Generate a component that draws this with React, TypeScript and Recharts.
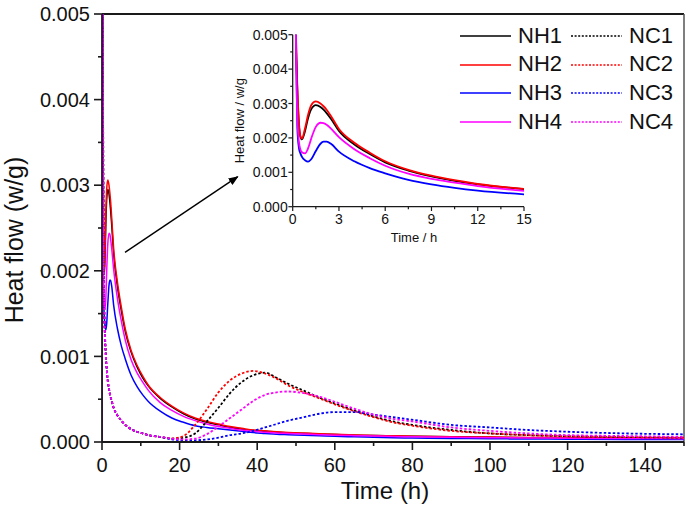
import React from 'react';
import { LineChart, Line, XAxis, YAxis, ReferenceLine, Legend } from 'recharts';

const time = [0, 0.05, 0.1, 0.2, 0.3, 0.4, 0.5, 0.6, 0.8, 1.0, 1.2, 1.5, 1.8, 2.0, 2.2, 2.5, 3, 4, 5, 6, 7.5, 9, 10.5, 12, 15, 18, 21, 24, 27, 30, 33, 36, 39, 42, 45, 48, 52, 56, 60, 65, 70, 75, 80, 90, 100, 110, 120, 135, 150];

const nh1 = [0, 0.02, 0.012, 0.0055, 0.0034, 0.0024, 0.00203, 0.00196, 0.0022, 0.00258,
  0.00283, 0.00295, 0.0029, 0.00282, 0.00272, 0.00254, 0.0022, 0.00181, 0.00153, 0.00129,
  0.00105, 0.00088, 0.00075, 0.00065, 0.00051, 0.00041, 0.00033, 0.00027, 0.00023, 0.0002,
  0.00017, 0.00015, 0.000135, 0.000125, 0.000115, 0.000108, 0.0001, 0.000093, 0.000087, 0.00008,
  0.000075, 0.00007, 0.000066, 0.00006, 0.000055, 0.000051, 0.000048, 0.000045, 0.000042];

const nh2 = [0, 0.02, 0.012, 0.0056, 0.0035, 0.0025, 0.00205, 0.00198, 0.00228, 0.00268,
  0.00295, 0.00306, 0.003, 0.00292, 0.00282, 0.00262, 0.00226, 0.00186, 0.00157, 0.00132,
  0.00107, 0.0009, 0.00077, 0.00066, 0.00052, 0.00042, 0.00034, 0.00028, 0.00024, 0.00021,
  0.00018, 0.00016, 0.00014, 0.00013, 0.00012, 0.000112, 0.000104, 0.000096, 0.00009, 0.000083,
  0.000077, 0.000072, 0.000068, 0.000062, 0.000057, 0.000053, 0.00005, 0.000047, 0.000044];

const nh3 = [0, 0.02, 0.01, 0.0051, 0.0023, 0.00172, 0.00155, 0.00145, 0.00135, 0.00131,
  0.00138, 0.00162, 0.00183, 0.00189, 0.00189, 0.00182, 0.0016, 0.00132, 0.00112, 0.00097,
  0.00078, 0.00065, 0.00055, 0.00047, 0.00036, 0.00028, 0.00023, 0.00019, 0.00017, 0.000155,
  0.00014, 0.000125, 0.00011, 0.0001, 0.00009, 0.000085, 0.000078, 0.000072, 0.000066, 0.00006,
  0.000055, 0.00005, 0.000047, 0.000042, 0.000038, 0.000035, 0.000033, 0.00003, 0.000028];

const nh4 = [0, 0.02, 0.011, 0.0052, 0.0026, 0.0019, 0.00166, 0.00158, 0.00155, 0.0017,
  0.00198, 0.00232, 0.00244, 0.00243, 0.00238, 0.00226, 0.00202, 0.00167, 0.00141, 0.00119,
  0.00096, 0.00081, 0.0007, 0.0006, 0.00046, 0.00037, 0.0003, 0.00025, 0.00021, 0.00018,
  0.00016, 0.00014, 0.000125, 0.000115, 0.000105, 0.0001, 0.000093, 0.000086, 0.00008, 0.000074,
  0.00007, 0.000065, 0.000061, 0.000056, 0.000051, 0.000047, 0.000044, 0.000041, 0.000038];

const nc1 = [0, 0.02, 0.012, 0.006, 0.0035, 0.0024, 0.0018, 0.0015, 0.0012, 0.001,
  0.00086, 0.00071, 0.00062, 0.00057, 0.00053, 0.00048, 0.0004, 0.00031, 0.00025, 0.0002,
  0.00015, 0.00012, 0.0001, 0.00008, 0.00006, 0.00004, 0.00005, 0.0001, 0.00024, 0.0004,
  0.00057, 0.0007, 0.00078, 0.00081, 0.00075, 0.00068, 0.0006, 0.00052, 0.00045, 0.00037,
  0.0003, 0.00024, 0.0002, 0.00014, 0.0001, 0.00008, 0.000068, 0.000058, 0.00005];

const nc2 = [0, 0.02, 0.012, 0.006, 0.0035, 0.0024, 0.0018, 0.0015, 0.0012, 0.001,
  0.00086, 0.00071, 0.00062, 0.00057, 0.00053, 0.00048, 0.0004, 0.00031, 0.00025, 0.0002,
  0.00015, 0.00012, 0.0001, 0.00008, 0.00006, 0.00004, 0.00007, 0.0002, 0.00038, 0.00058,
  0.00072, 0.0008, 0.00083, 0.0008, 0.00074, 0.00066, 0.00058, 0.00051, 0.00044, 0.00036,
  0.00029, 0.00023, 0.00019, 0.00013, 0.0001, 0.00008, 0.000068, 0.000058, 0.00005];

const nc3 = [0, 0.02, 0.012, 0.006, 0.0035, 0.0024, 0.0018, 0.0015, 0.0012, 0.001,
  0.00086, 0.00071, 0.00062, 0.00057, 0.00053, 0.00048, 0.0004, 0.00031, 0.00025, 0.0002,
  0.00015, 0.00012, 0.0001, 0.00008, 0.00006, 0.00003, 0.00002, 0.00002, 0.00003, 0.00005,
  0.00008, 0.0001, 0.00013, 0.00017, 0.00021, 0.00025, 0.00029, 0.00033, 0.00035, 0.00035,
  0.00032, 0.00029, 0.00026, 0.0002, 0.00017, 0.00014, 0.00012, 0.0001, 0.00009];

const nc4 = [0, 0.02, 0.012, 0.006, 0.0035, 0.0024, 0.0018, 0.0015, 0.0012, 0.001,
  0.00086, 0.00071, 0.00062, 0.00057, 0.00053, 0.00048, 0.0004, 0.00031, 0.00025, 0.0002,
  0.00015, 0.00012, 0.0001, 0.00008, 0.00006, 0.00004, 0.00003, 0.00004, 0.00009, 0.00018,
  0.00028, 0.00038, 0.00048, 0.00055, 0.00058, 0.00059, 0.00057, 0.00053, 0.00047, 0.00039,
  0.00032, 0.00027, 0.00024, 0.00017, 0.00013, 0.0001, 0.00008, 0.00007, 0.00006];

const mainXTicks = [0, 10, 20, 30, 40, 50, 60, 70, 80, 90, 100, 110, 120, 130, 140, 150];
const mainYTicks = [0, 0.0005, 0.001, 0.0015, 0.002, 0.0025, 0.003, 0.0035, 0.004, 0.0045, 0.005];
const insetXTicks = [0, 1.5, 3, 4.5, 6, 7.5, 9, 10.5, 12, 13.5, 15];
const insetYTicks = [0, 0.0005, 0.001, 0.0015, 0.002, 0.0025, 0.003, 0.0035, 0.004, 0.0045, 0.005];

const nhNames = ['NH1', 'NH2', 'NH3', 'NH4'];
const ncNames = ['NC1', 'NC2', 'NC3', 'NC4'];
const colors = ['#000000', '#ff0000', '#0000ff', '#ff00ff'];
const nhValues = [nh1, nh2, nh3, nh4];
const ncValues = [nc1, nc2, nc3, nc4];

const rows = time.map((t, i) => {
  const r: any = { t };
  nhNames.forEach((n, k) => { r[n] = nhValues[k][i]; });
  ncNames.forEach((n, k) => { r[n] = ncValues[k][i]; });
  return r;
});
const insetRows = rows.filter((r) => r.t >= 0.1 && r.t <= 15);

const FONT = '"Liberation Sans", Arial, Helvetica, sans-serif';
const AX = '#1a1a1a';

const MainYTick = (props: any) => {
  const { x, y, payload } = props;
  const v = payload.value;
  const major = Math.round(v * 10000) % 10 === 0;
  return (
    <g>
      <line x1={x - (major ? 8 : 4)} x2={x} y1={y} y2={y} stroke={AX} strokeWidth={1.6} />
      {major && (
        <text x={x - 12} y={y + 7.2} textAnchor="end" fontSize={20} fontFamily={FONT} fill="#111">
          {v.toFixed(3)}
        </text>
      )}
    </g>
  );
};

const MainXTick = (props: any) => {
  const { x, y, payload } = props;
  const v = payload.value;
  const major = v % 20 === 0;
  return (
    <g>
      <line x1={x} x2={x} y1={y} y2={y + (major ? 8 : 4)} stroke={AX} strokeWidth={1.6} />
      {major && (
        <text x={x} y={y + 29.7} textAnchor="middle" fontSize={20} fontFamily={FONT} fill="#111">
          {v}
        </text>
      )}
    </g>
  );
};

const InsetYTick = (props: any) => {
  const { x, y, payload } = props;
  const v = payload.value;
  const major = Math.round(v * 10000) % 10 === 0;
  return (
    <g>
      <line x1={x - (major ? 4.3 : 2.5)} x2={x} y1={y} y2={y} stroke={AX} strokeWidth={1.2} />
      {major && (
        <text x={x - 5} y={y + 5} textAnchor="end" fontSize={14} fontFamily={FONT} fill="#111">
          {v.toFixed(3)}
        </text>
      )}
    </g>
  );
};

const InsetXTick = (props: any) => {
  const { x, y, payload } = props;
  const v = payload.value;
  const major = v % 3 === 0;
  return (
    <g>
      <line x1={x} x2={x} y1={y} y2={y + (major ? 4.3 : 2.5)} stroke={AX} strokeWidth={1.2} />
      {major && (
        <text x={x} y={y + 17.3} textAnchor="middle" fontSize={14} fontFamily={FONT} fill="#111">
          {v}
        </text>
      )}
    </g>
  );
};

const mainYLabel = (props: any) => {
  const vb = props.viewBox || { x: 0, y: 14 };
  const cx = vb.x + 23;
  const cy = vb.y + 226;
  return (
    <text x={cx} y={cy} transform={`rotate(-90, ${cx}, ${cy})`} textAnchor="middle" fontSize={25} fontFamily={FONT} fill="#111">
      Heat flow (w/g)
    </text>
  );
};

const mainXLabel = (props: any) => {
  const vb = props.viewBox || { x: 102, y: 442 };
  return (
    <text x={vb.x + 283} y={vb.y + 57} textAnchor="middle" fontSize={24} fontFamily={FONT} fill="#111">
      Time (h)
    </text>
  );
};

const insetYLabel = (props: any) => {
  const vb = props.viewBox || { x: 0, y: 14.7 };
  const cx = vb.x + 24.5;
  const cy = vb.y + 86;
  return (
    <text x={cx} y={cy} transform={`rotate(-90, ${cx}, ${cy})`} textAnchor="middle" fontSize={13} fontFamily={FONT} fill="#111">
      Heat flow / w/g
    </text>
  );
};

const insetXLabel = (props: any) => {
  const vb = props.viewBox || { x: 72.7, y: 186.7 };
  return (
    <text x={vb.x + 121.3} y={vb.y + 34.8} textAnchor="middle" fontSize={13} fontFamily={FONT} fill="#111">
      Time / h
    </text>
  );
};

const renderLegend = (props: any) => {
  const items: any[] = props.payload || [];
  const pick = (prefix: string) =>
    items
      .filter((e) => String(e.value).startsWith(prefix))
      .sort((a, b) => String(a.value).localeCompare(String(b.value)));
  const column = (list: any[], dashed: boolean, left: number) => (
    <div style={{ position: 'absolute', left, top: 0 }}>
      {list.map((e) => (
        <div key={String(e.value)} style={{ display: 'flex', alignItems: 'center', height: 28.7 }}>
          <svg width={51} height={6} style={{ display: 'block' }}>
            <line x1={0} x2={51} y1={3} y2={3} stroke={e.color} strokeWidth={1.5} strokeDasharray={dashed ? '2 1.6' : undefined} />
          </svg>
          <span style={{ marginLeft: 7, fontSize: 22, fontFamily: FONT, color: '#111', lineHeight: '28.7px' }}>{e.value}</span>
        </div>
      ))}
    </div>
  );
  return (
    <div style={{ position: 'relative', width: 225, height: 115 }}>
      {column(pick('NH'), false, 0)}
      {column(pick('NC'), true, 111)}
    </div>
  );
};

export default function App() {
  return (
    <div style={{ position: 'absolute', left: 0, top: 0, width: 685, height: 509, background: '#fff', overflow: 'hidden' }}>
      <LineChart width={685} height={509} data={rows} margin={{ top: 14, right: 1, left: 0, bottom: 0 }}>
        <XAxis
          dataKey="t"
          type="number"
          domain={[0, 150]}
          allowDataOverflow
          ticks={mainXTicks}
          interval={0}
          tickSize={0}
          tickMargin={0}
          tickLine={false}
          tick={MainXTick}
          height={67}
          axisLine={{ stroke: AX, strokeWidth: 1.8 }}
          label={mainXLabel}
        />
        <YAxis
          type="number"
          domain={[0, 0.005]}
          allowDataOverflow
          ticks={mainYTicks}
          interval={0}
          tickSize={0}
          tickMargin={0}
          tickLine={false}
          tick={MainYTick}
          width={102}
          axisLine={{ stroke: AX, strokeWidth: 1.8 }}
          label={mainYLabel}
        />
        <ReferenceLine y={0.005} stroke={AX} strokeWidth={1.8} />
        <ReferenceLine x={150} stroke="#555" strokeWidth={1.5} />
        {nhNames.map((n, k) => (
          <Line key={n} dataKey={n} name={n} type="monotone" stroke={colors[k]} strokeWidth={1.5} dot={false} activeDot={false} isAnimationActive={false} />
        ))}
        {ncNames.map((n, k) => (
          <Line key={n} dataKey={n} name={n} type="monotone" stroke={colors[k]} strokeWidth={1.8} strokeDasharray="2.5 2" dot={false} activeDot={false} isAnimationActive={false} />
        ))}
        <Legend
          layout="horizontal"
          verticalAlign="middle"
          align="center"
          content={renderLegend}
          wrapperStyle={{ position: 'absolute', left: 460, top: 21.5, width: 225, height: 115 }}
        />
      </LineChart>

      <div style={{ position: 'absolute', left: 220, top: 20, width: 320, height: 230 }}>
        <LineChart width={320} height={230} data={insetRows} margin={{ top: 14.7, right: 16, left: 0, bottom: 0 }}>
          <XAxis
            dataKey="t"
            type="number"
            domain={[0, 15]}
            allowDataOverflow
            ticks={insetXTicks}
            interval={0}
            tickSize={0}
            tickMargin={0}
            tickLine={false}
            tick={InsetXTick}
            height={43.3}
            axisLine={{ stroke: AX, strokeWidth: 1.3 }}
            label={insetXLabel}
          />
          <YAxis
            type="number"
            domain={[0, 0.005]}
            allowDataOverflow
            ticks={insetYTicks}
            interval={0}
            tickSize={0}
            tickMargin={0}
            tickLine={false}
            tick={InsetYTick}
            width={72.7}
            axisLine={{ stroke: AX, strokeWidth: 1.3 }}
            label={insetYLabel}
          />
          {nhNames.map((n, k) => (
            <Line key={n} dataKey={n} name={n} type="monotone" stroke={colors[k]} strokeWidth={1.8} dot={false} activeDot={false} isAnimationActive={false} />
          ))}
        </LineChart>
      </div>

      <svg width={685} height={509} style={{ position: 'absolute', left: 0, top: 0, pointerEvents: 'none' }}>
        <defs>
          <marker id="arrowHead" markerWidth="10" markerHeight="8" refX="9" refY="4" orient="auto" markerUnits="userSpaceOnUse">
            <path d="M0,0 L10,4 L0,8 Z" fill="#000" />
          </marker>
        </defs>
        <line x1={125} y1={252.3} x2={237.7} y2={176.7} stroke="#000" strokeWidth={1.4} markerEnd="url(#arrowHead)" />
      </svg>
    </div>
  );
}
